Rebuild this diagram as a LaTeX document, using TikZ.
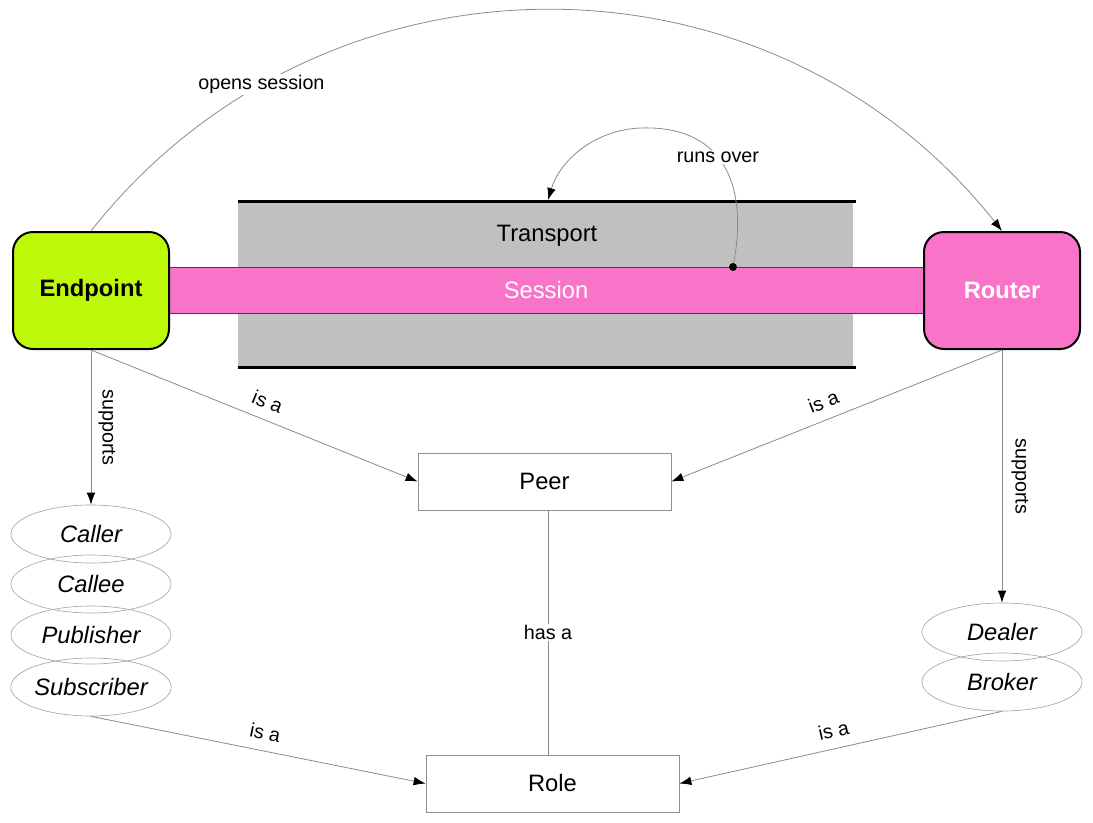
\documentclass[tikz,border=0pt]{standalone}
\usepackage{fontspec}
\setmainfont{Liberation Sans}
\usetikzlibrary{arrows.meta,shapes.geometric,calc}
\definecolor{limeep}{HTML}{BEF90A}
\definecolor{rpink}{HTML}{F973C8}
\definecolor{tgray}{HTML}{C0C0C0}
\definecolor{lgray}{HTML}{8A8A8A}
\definecolor{bgray}{HTML}{909090}
\begin{document}
\begin{tikzpicture}[x=0.75pt,y=-0.75pt,
  mainf/.style={font=\fontsize{17.8}{21}\selectfont},
  lbl/.style={font=\fontsize{14.8}{18}\selectfont, text=black},
  actor/.style={draw=black, line width=1.5pt, rounded corners=15pt,
    minimum width=117pt, minimum height=87.75pt, inner sep=0pt,
    font=\fontsize{17.8}{21}\selectfont\bfseries},
  entity/.style={draw=bgray, line width=0.6pt, minimum width=189.75pt,
    minimum height=42.75pt, inner sep=0pt, mainf},
  rolebox/.style={ellipse, draw=bgray!80, line width=0.5pt, minimum width=120pt,
    minimum height=43.5pt, inner sep=0pt, font=\fontsize{17.8}{21}\selectfont\itshape},
  conn/.style={draw=lgray, line width=0.6pt},
  arr/.style={conn, -{Latex[length=9pt,width=6.5pt,color=black]}},
  islbl/.style={lbl, sloped, above=4.5pt},
  wlbl/.style={lbl, fill=white, inner sep=1pt}
]
\useasboundingbox (0,0) rectangle (1093,822);
% transport
\node[fill=tgray, minimum width=461.25pt, minimum height=123.75pt, inner sep=0pt] (tr) at (545.5,284.5) {};
\draw[line width=2pt] (tr.north west) -- ([xshift=2pt]tr.north east);
\draw[line width=2pt] (tr.south west) -- ([xshift=2pt]tr.south east);
\node[mainf] (trt) at (547,236) {Transport};
% session
\node[fill=rpink, draw=black!75, line width=0.6pt, minimum width=567pt, minimum height=34.5pt, inner sep=0pt,
  text=white, mainf] (ses) at (546,290) {Session};
% actors
\node[actor, fill=limeep] (ep) at (91,290.5) {Endpoint};
\node[actor, fill=rpink, text=white] (rt) at (1002,290.5) {Router};
% peer and role
\node[entity] (peer) at (544.5,481.5) {Peer};
\node[entity] (role) at (552.5,783.5) {Role};
% roles
\node[rolebox] (caller) at (91,534) {Caller};
\node[rolebox] (callee) at (91,584) {Callee};
\node[rolebox] (pub) at (91,635) {Publisher};
\node[rolebox] (sub) at (91,687) {Subscriber};
\node[rolebox] (dealer) at (1002,632) {Dealer};
\node[rolebox] (broker) at (1002,682) {Broker};
% opens session
\draw[arr] (ep.north) .. controls (322.6,-63.2) and (769.4,-63.2) ..
  node[wlbl, pos=0.21] {opens session} (rt.north);
% runs over
\coordinate (ro) at (733,267);
\coordinate (trtop) at (548,200);
\draw[arr] (ro) .. controls (750,180) and (720,125) .. node[wlbl, pos=0.55] {runs over}
  (640,128) .. controls (595,130) and (560,160) .. (trtop);
\node[circle, fill=black, minimum size=6pt, inner sep=0pt] (rodot) at (ro) {};
% supports
\draw[arr] (ep.south) -- node[lbl, midway, xshift=12pt, rotate=-90] {supports} (caller.north);
\draw[arr] (rt.south) -- node[lbl, midway, xshift=13.5pt, rotate=-90] {supports} (dealer.north);
% is a
\draw[arr] (ep.south) -- node[islbl, pos=0.52] {is a} (peer.west);
\draw[arr] (rt.south) -- node[islbl, pos=0.52] {is a} (peer.east);
\draw[arr] (sub.south) -- node[islbl, pos=0.51] {is a} (role.west);
\draw[arr] (broker.south) -- node[islbl, pos=0.51] {is a} (role.east);
% has a
\draw[conn] ([xshift=2.6pt]peer.south) -- node[wlbl, midway] {has a} ([xshift=-3.4pt]role.north);
\end{tikzpicture}
\end{document}
